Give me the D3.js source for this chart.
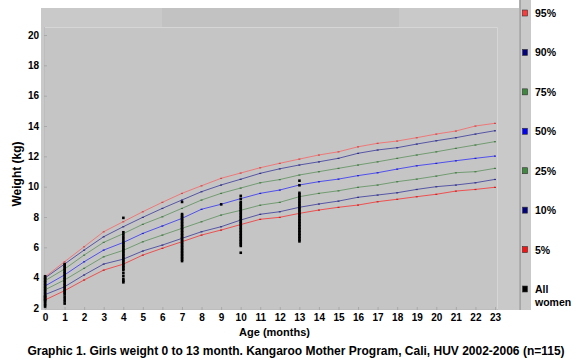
<!DOCTYPE html>
<html>
<head>
<meta charset="utf-8">
<script src="https://cdn.jsdelivr.net/npm/d3@7"></script>
<style>
  html, body { margin: 0; padding: 0; background: #ffffff; }
  svg { display: block; }
  text { font-family: "Liberation Sans", Arial, sans-serif; font-weight: bold; fill: #000; }
</style>
</head>
<body>
<svg id="chart" width="579" height="360"></svg>
<script>
// ---------- DATA ----------
const months = d3.range(0, 24);
const xTickLabels = months.map(String);
const yTickValues = [2, 4, 6, 8, 10, 12, 14, 16, 18, 20];

const p95 = [4.05, 5.05, 6.04, 7.03, 7.69, 8.35, 8.97, 9.56, 10.06, 10.55, 10.9, 11.25, 11.54, 11.82, 12.09, 12.3, 12.63, 12.86, 13.01, 13.23, 13.47, 13.67, 14.0, 14.18];
const p90 = [3.98, 4.9, 5.82, 6.7, 7.36, 7.98, 8.57, 9.12, 9.67, 10.11, 10.49, 10.88, 11.18, 11.43, 11.64, 11.87, 12.2, 12.42, 12.57, 12.81, 13.03, 13.23, 13.47, 13.69];
const p75 = [3.8, 4.57, 5.49, 6.33, 6.9, 7.52, 8.02, 8.57, 9.12, 9.56, 9.91, 10.26, 10.47, 10.77, 10.99, 11.21, 11.43, 11.64, 11.87, 12.09, 12.3, 12.53, 12.75, 12.97];
const p50 = [3.45, 4.18, 5.05, 5.82, 6.32, 6.92, 7.41, 7.91, 8.51, 8.84, 9.21, 9.56, 9.78, 10.11, 10.33, 10.5, 10.73, 10.92, 11.16, 11.38, 11.54, 11.71, 11.87, 12.02];
const p25 = [3.2, 3.85, 4.62, 5.38, 5.8, 6.37, 6.81, 7.25, 7.69, 8.13, 8.44, 8.78, 8.97, 9.34, 9.56, 9.73, 9.96, 10.11, 10.33, 10.5, 10.7, 10.92, 10.99, 11.21];
const p10 = [2.88, 3.4, 4.18, 4.9, 5.22, 5.76, 6.15, 6.59, 7.03, 7.36, 7.8, 8.18, 8.35, 8.64, 8.86, 9.05, 9.3, 9.45, 9.6, 9.82, 10.0, 10.11, 10.26, 10.48];
const p5  = [2.53, 3.14, 3.85, 4.5, 4.89, 5.49, 5.94, 6.37, 6.81, 7.14, 7.5, 7.85, 7.98, 8.24, 8.46, 8.64, 8.79, 9.01, 9.17, 9.34, 9.5, 9.71, 9.82, 9.96];

const seriesNames = ["95%", "90%", "75%", "50%", "25%", "10%", "5%"];
const seriesValues = [p95, p90, p75, p50, p25, p10, p5];

// "All women" observations: weights at each visit age (months)
const visitAges = [0, 1, 4, 7, 9, 10, 13];
const w0  = [2.1, 2.2, 2.3, 2.4, 2.5, 2.55, 2.6, 2.7, 2.75, 2.8, 2.9, 3.0, 3.1, 3.2, 3.3, 3.4, 3.5, 3.6, 3.7, 3.8, 3.9, 4.0, 4.1];
const w1  = [2.3, 2.45, 2.6, 2.75, 2.9, 3.0, 3.1, 3.2, 3.3, 3.4, 3.5, 3.6, 3.7, 3.8, 3.9, 4.0, 4.1, 4.2, 4.3, 4.4, 4.5, 4.6, 4.7, 4.8, 4.9];
const w4  = [7.95, 7.0, 6.85, 6.7, 6.55, 6.4, 6.3, 6.2, 6.1, 6.0, 5.9, 5.8, 5.7, 5.6, 5.5, 5.4, 5.3, 5.2, 5.1, 5.0, 4.9, 4.8, 4.7, 4.6, 4.5, 4.3, 4.1, 3.9, 3.8, 3.7];
const w7  = [9.0, 8.2, 8.1, 8.0, 7.9, 7.8, 7.7, 7.6, 7.5, 7.4, 7.3, 7.2, 7.1, 7.0, 6.9, 6.8, 6.7, 6.6, 6.5, 6.4, 6.3, 6.2, 6.1, 6.0, 5.9, 5.8, 5.7, 5.6, 5.5, 5.4, 5.3, 5.2, 5.1];
const w9  = [8.84];
const w10 = [9.4, 9.2, 9.0, 8.9, 8.8, 8.7, 8.6, 8.5, 8.4, 8.3, 8.2, 8.1, 8.0, 7.9, 7.8, 7.7, 7.6, 7.5, 7.4, 7.3, 7.2, 7.1, 7.0, 6.9, 6.8, 6.7, 6.6, 6.5, 6.4, 6.3, 6.2, 6.1, 5.65];
const w13 = [10.4, 10.1, 9.6, 9.5, 9.4, 9.3, 9.2, 9.1, 9.0, 8.9, 8.8, 8.7, 8.6, 8.5, 8.4, 8.3, 8.2, 8.1, 8.0, 7.9, 7.8, 7.7, 7.6, 7.5, 7.4, 7.3, 7.2, 7.1, 7.0, 6.9, 6.8, 6.7, 6.6, 6.5, 6.4];
const visitWeights = [w0, w1, w4, w7, w9, w10, w13];

// ---------- STYLE ----------
const lineColors  = ["#ef7878", "#5656a6", "#729c72", "#5050ee", "#729c72", "#5656a6", "#ee5050"];
const dotColors   = ["#d04848", "#303088", "#447a44", "#2020d0", "#447a44", "#303088", "#d02020"];
const swatchColors = ["#ff3a3a", "#000080", "#3c8a3c", "#0000ff", "#3c8a3c", "#000080", "#ff1010", "#000000"];
const legendLabels = seriesNames.concat(["All"]);

// ---------- DRAW ----------
const svg = d3.select("#chart");

const plot = { left: 44, top: 27, right: 498, bottom: 310 };
const x = d3.scaleLinear().domain([0, 23]).range([45, 495]);
const y = d3.scaleLinear().domain([2, 20]).range([308, 35]);

// panel backgrounds
svg.append("rect").attr("x", 41).attr("y", 8).attr("width", 478).attr("height", 302).attr("fill", "#c9c9c9");
svg.append("rect").attr("x", 162).attr("y", 8).attr("width", 237).attr("height", 19).attr("fill", "#c2c2c2");
svg.append("rect").attr("x", plot.left).attr("y", plot.top)
  .attr("width", plot.right - plot.left).attr("height", plot.bottom - plot.top)
  .attr("fill", "#c5c5c5");
svg.append("path")
  .attr("d", `M${plot.left},${plot.top + 0.5}H${plot.right - 0.5}V${plot.bottom}`)
  .attr("fill", "none").attr("stroke", "#d6d6d6").attr("stroke-width", 1);
svg.append("path")
  .attr("d", `M${plot.left + 0.5},${plot.top}V${plot.bottom - 0.5}H${plot.right}`)
  .attr("fill", "none").attr("stroke", "#bdbdbd").attr("stroke-width", 1);

// legend strip
svg.append("rect").attr("x", 520.5).attr("y", 0).attr("width", 10.5).attr("height", 310).attr("fill", "#c9c9c9");
svg.append("line").attr("x1", 520).attr("x2", 520).attr("y1", 0).attr("y2", 310)
  .attr("stroke", "#7c7c7c").attr("stroke-width", 1.2);

// axes
const xAxis = d3.axisBottom(x).tickValues(months).tickFormat((d, i) => xTickLabels[i])
  .tickSizeInner(-3).tickSizeOuter(0).tickPadding(4);
const gx = svg.append("g").attr("transform", `translate(0,${plot.bottom})`).call(xAxis);
gx.select(".domain").remove();
gx.selectAll(".tick line").attr("stroke", "#a9a9a9");
gx.selectAll(".tick text").attr("font-size", 10).attr("font-family", "Liberation Sans, Arial, sans-serif")
  .attr("font-weight", "bold").attr("fill", "#000");

const yAxis = d3.axisLeft(y).tickValues(yTickValues).tickSizeInner(-3).tickSizeOuter(0).tickPadding(8);
const gy = svg.append("g").attr("transform", `translate(${plot.left},0)`).call(yAxis);
gy.select(".domain").remove();
gy.selectAll(".tick line").attr("stroke", "#a9a9a9");
gy.selectAll(".tick text").attr("font-size", 10).attr("font-family", "Liberation Sans, Arial, sans-serif")
  .attr("font-weight", "bold").attr("fill", "#000").attr("x", -5);

// percentile lines
const line = d3.line().x((d, i) => x(months[i])).y(d => y(d));
seriesValues.forEach((vals, k) => {
  svg.append("path").datum(vals).attr("d", line)
    .attr("fill", "none").attr("stroke", lineColors[k]).attr("stroke-width", 1);
  svg.append("g").selectAll("rect").data(vals).join("rect")
    .attr("x", (d, i) => x(months[i]) - 1).attr("y", d => y(d) - 0.5)
    .attr("width", 2).attr("height", 1.2).attr("fill", dotColors[k]);
});

// all women scatter
const pts = [];
visitAges.forEach((a, i) => visitWeights[i].forEach(w => pts.push({ a, w })));
svg.append("g").selectAll("rect").data(pts).join("rect")
  .attr("x", d => x(d.a) - 1.2).attr("y", d => y(d.w) - 1.2)
  .attr("width", 2.6).attr("height", 2.6).attr("fill", "#000");

// legend
const legY = d3.scalePoint().domain(legendLabels).range([13, 289]);
const leg = svg.append("g");
legendLabels.forEach((lab, i) => {
  const cy = legY(lab);
  leg.append("rect").attr("x", 522.5).attr("y", cy - 3).attr("width", 5).attr("height", 6)
    .attr("fill", swatchColors[i]).attr("stroke", "#333").attr("stroke-width", 0.6);
  leg.append("text").attr("x", 535).attr("y", cy + 4).attr("font-size", 10.5).text(lab);
});
leg.append("text").attr("x", 535).attr("y", legY("All") + 17).attr("font-size", 10.5).text("women");

// titles
svg.append("text").attr("x", 274.5).attr("y", 336).attr("text-anchor", "middle").attr("font-size", 11).text("Age (months)");
svg.append("text").attr("transform", "translate(21,174) rotate(-90)").attr("text-anchor", "middle")
  .attr("font-size", 12).text("Weight (kg)");
svg.append("text").attr("x", 296).attr("y", 355).attr("text-anchor", "middle").attr("font-size", 12)
  .text("Graphic 1. Girls weight 0 to 13 month. Kangaroo Mother Program, Cali, HUV 2002-2006 (n=115)");
</script>
</body>
</html>
